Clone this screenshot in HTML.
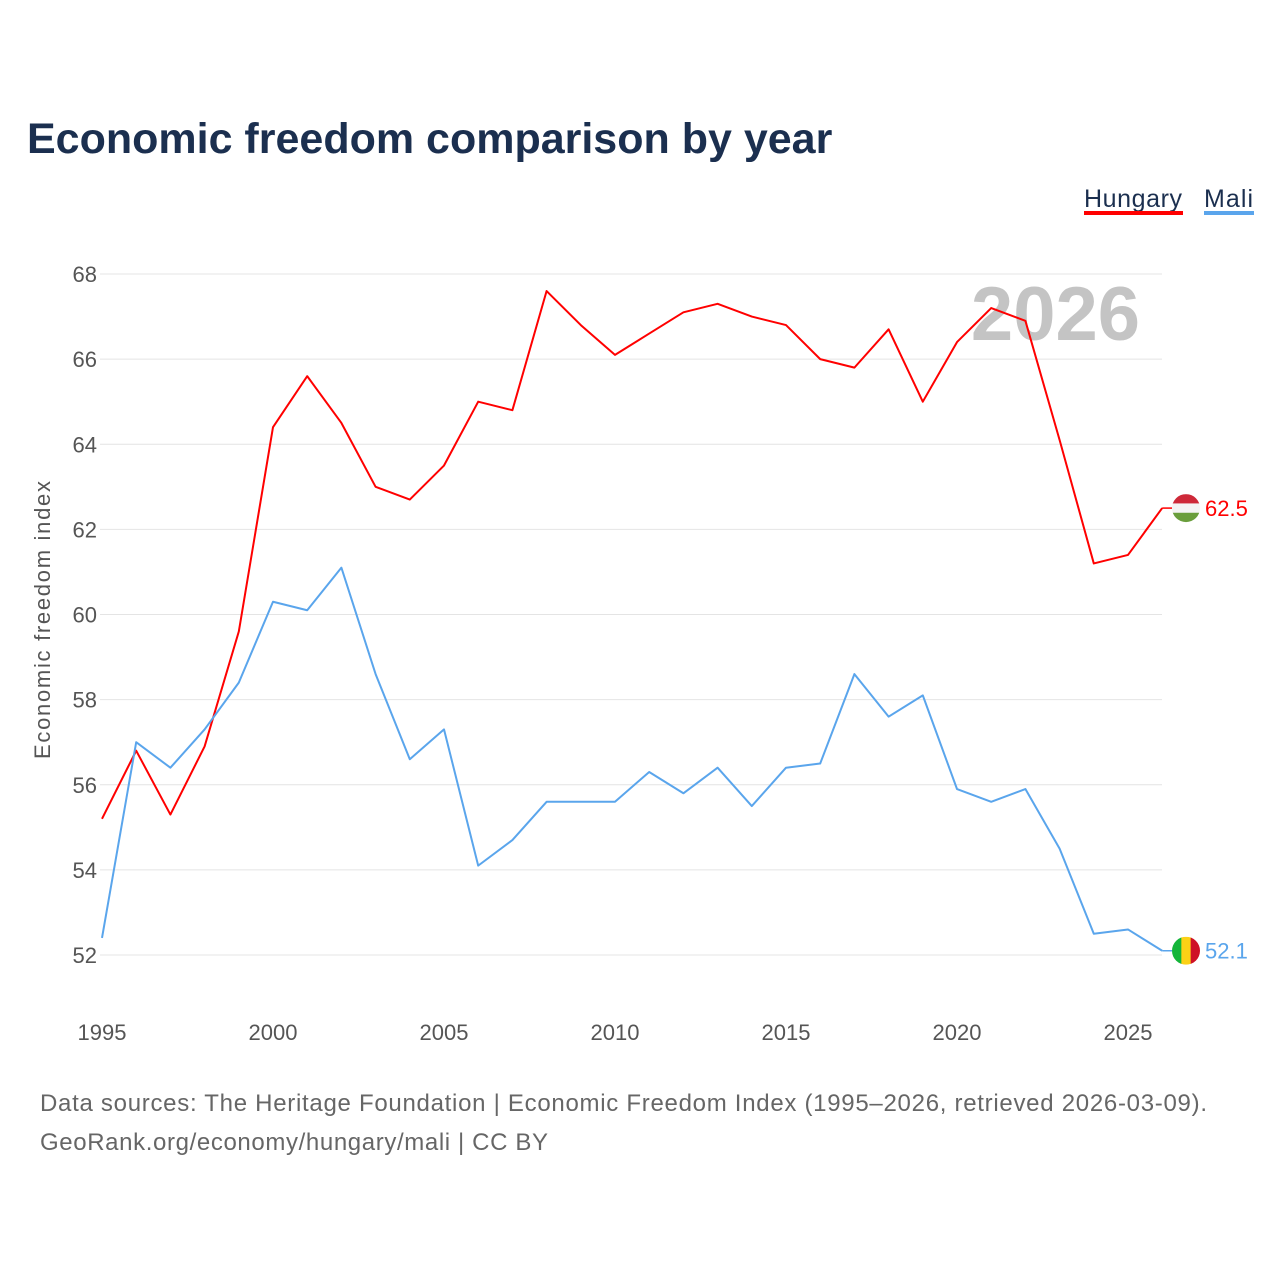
<!DOCTYPE html>
<html><head><meta charset="utf-8"><style>
body{margin:0;background:#fff;font-family:"Liberation Sans",sans-serif;}
svg text{font-family:"Liberation Sans",sans-serif;}
</style></head><body>
<svg id="chart" width="1280" height="1280" xmlns="http://www.w3.org/2000/svg">
<text x="27" y="153" font-size="43" font-weight="bold" fill="#1b2f4f">Economic freedom comparison by year</text>
<g><text x="1084" y="207" font-size="25" fill="#1b2f4f" textLength="98">Hungary</text><rect x="1084" y="211" width="99" height="4" fill="#f00"/></g>
<g><text x="1204" y="207" font-size="25" fill="#1b2f4f" textLength="49">Mali</text><rect x="1204" y="211" width="50" height="4" fill="#5aa5ec"/></g>
<text x="1140" y="340" font-size="76" font-weight="bold" fill="#c4c4c4" text-anchor="end">2026</text>
<text transform="translate(50,620) rotate(-90)" font-size="22" fill="#555" text-anchor="middle" textLength="278">Economic freedom index</text>
<g id="grid"></g><g id="lines"></g>
<text x="40" y="1111" font-size="24" fill="#666" textLength="1167">Data sources: The Heritage Foundation | Economic Freedom Index (1995–2026, retrieved 2026-03-09).</text>
<text x="40" y="1150" font-size="24" fill="#666" textLength="508">GeoRank.org/economy/hungary/mali | CC BY</text>
</svg>
<script>
const years=[1995,1996,1997,1998,1999,2000,2001,2002,2003,2004,2005,2006,2007,2008,2009,2010,2011,2012,2013,2014,2015,2016,2017,2018,2019,2020,2021,2022,2023,2024,2025,2026];
const hungary=[55.2,56.8,55.3,56.9,59.6,64.4,65.6,64.5,63.0,62.7,63.5,65.0,64.8,67.6,66.8,66.1,66.6,67.1,67.3,67.0,66.8,66.0,65.8,66.7,65.0,66.4,67.2,66.9,64.1,61.2,61.4,62.5];
const mali=[52.4,57.0,56.4,57.3,58.4,60.3,60.1,61.1,58.6,56.6,57.3,54.1,54.7,55.6,55.6,55.6,56.3,55.8,56.4,55.5,56.4,56.5,58.6,57.6,58.1,55.9,55.6,55.9,54.5,52.5,52.6,52.1];
const yTicks=[52,54,56,58,60,62,64,66,68];
const xTicks=[1995,2000,2005,2010,2015,2020,2025];
const NS="http://www.w3.org/2000/svg";
const X=v=>102+(v-1995)*(1128-102)/30;
const Y=v=>955-(v-52)*(955-274)/16;
function mk(t,a,p){const e=document.createElementNS(NS,t);for(const k in a)e.setAttribute(k,a[k]);p.appendChild(e);return e;}
const g=document.getElementById('grid');
yTicks.forEach(v=>{
 const l=mk('line',{x1:100,x2:1162,y1:Y(v),y2:Y(v),stroke:'#e4e4e4','stroke-width':1},g);
 
 
 const t=mk('text',{x:97,y:Y(v)+8,'font-size':22,fill:'#555','text-anchor':'end'},g);t.textContent=v;
 
 
});
xTicks.forEach(v=>{
 const t=mk('text',{x:X(v),y:1040,'font-size':22,fill:'#555','text-anchor':'middle'},g);t.textContent=v;
 
 
});
const L=document.getElementById('lines');
function series(vals,col,name,flag){
 const p=mk('polyline',{points:vals.map((v,i)=>X(years[i])+','+Y(v)).join(' '),fill:'none',stroke:col,'stroke-width':2,'stroke-linejoin':'round'},L);
 
 
 const last=vals[vals.length-1],cx=1186,cy=Y(last);
 mk('line',{x1:X(2026),x2:cx-14,y1:cy,y2:cy,stroke:col,'stroke-width':1.5},L);
 const fg=mk('g',{},L);
 
 
 const cid='c'+name;const cp=mk('clipPath',{id:cid},fg);mk('circle',{cx:cx,cy:cy,r:14},cp);
 flag.forEach((c,i)=>{
  if(flag.dir==='h')mk('rect',{x:cx-14,y:cy-14+i*28/3,width:28,height:28/3+0.5,fill:c,'clip-path':'url(#'+cid+')'},fg);
  else mk('rect',{x:cx-14+i*28/3,y:cy-14,width:28/3+0.5,height:28,fill:c,'clip-path':'url(#'+cid+')'},fg);
 });
 const t=mk('text',{x:1205,y:cy+8,'font-size':22,fill:col},L);t.textContent=last.toFixed(1);
 
 
}
const hf=['#ce2939','#f4f4f4','#6a9e3c'];hf.dir='h';
const mf=['#14b53a','#fcd116','#ce1126'];mf.dir='v';
series(hungary,'#ff0000','hungary',hf);
series(mali,'#5aa5ec','mali',mf);
</script>
</body></html>
